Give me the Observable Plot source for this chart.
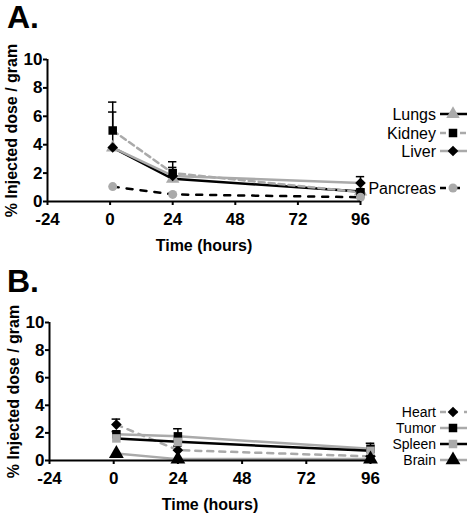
<!DOCTYPE html>
<html><head><meta charset="utf-8">
<script src="https://cdn.jsdelivr.net/npm/d3@7"></script>
<script src="https://cdn.jsdelivr.net/npm/@observablehq/plot@0.6"></script>
<style>
body{margin:0;background:#fff;}
#wrap{width:469px;}
svg{display:block;}
</style></head>
<body><div id="wrap"></div>
<script>
// ---- data ----
const times = [1, 24, 96];
const xTicks = [-24, 0, 24, 48, 72, 96];
const yTicks = [0, 2, 4, 6, 8, 10];

// Panel A
const lungs = [3.8, 1.6, 0.7];
const kidney = [5.0, 2.0, 0.65];
const liver = [3.8, 1.8, 1.3];
const pancreas = [1.05, 0.5, 0.3];
const kidneySd = [2.0, 0.8, 0.2];
const liverSd = [2.5, 0.6, 0.45];

// Panel B
const heart = [2.6, 0.75, 0.3];
const tumor = [1.9, 1.75, 0.85];
const spleen = [1.6, 1.35, 0.7];
const brain = [0.5, 0.1, 0.1];
const heartSd = [0.4, 0.3, 0];
const tumorSd = [0.2, 0.55, 0.4];

const GRAY = "#aaaaaa";
const FONT = "'Liberation Sans', Arial, Helvetica, sans-serif";

const tbl = vals => vals.map((v, i) => ({t: times[i], v}));
const errTbl = (vals, sds) => vals.map((v, i) => ({t: times[i], v, hi: v + sds[i]})).filter(d => d.hi > d.v);

function panel({series, errs, letter, margins, legendY}) {
  const marks = [];
  for (const s of series) {
    marks.push(Plot.line(tbl(s.vals), {x: "t", y: "v", stroke: s.line, strokeWidth: 2.5,
      strokeDasharray: s.dash || null}));
  }
  for (const e of errs) {
    const d = errTbl(e.vals, e.sds);
    marks.push(Plot.ruleX(d, {x: "t", y1: "v", y2: "hi", stroke: "black", strokeWidth: 1.5}));
    marks.push(Plot.ruleY(d, {y: "hi", x1: r => r.t - 1.6, x2: r => r.t + 1.6, stroke: "black", strokeWidth: 1.5}));
  }
  for (const s of series) {
    marks.push(Plot.dot(tbl(s.vals), {x: "t", y: "v", symbol: s.symbol, fill: s.fill, stroke: "none", r: s.r}));
  }
  marks.push(Plot.ruleY([0], {stroke: "black", strokeWidth: 2}));
  marks.push(Plot.ruleX([-24], {stroke: "black", strokeWidth: 2}));
  marks.push(Plot.axisY({ticks: yTicks, tickSize: 4, tickPadding: 1, strokeWidth: 2, tickFormat: d => String(d),
    label: "% Injected dose / gram", labelAnchor: "center", labelArrow: "none", labelOffset: 42}));
  marks.push(Plot.axisX({ticks: xTicks, tickSize: 4, tickPadding: 7, strokeWidth: 2, tickFormat: d => String(d),
    label: "Time (hours)", labelAnchor: "center", labelArrow: "none", labelOffset: 49}));

  const chart = Plot.plot({
    width: 469, height: 257,
    marginLeft: margins[0], marginRight: margins[1], marginTop: margins[2], marginBottom: margins[3],
    x: {domain: [-24, 96]},
    y: {domain: [0, 10]},
    style: {fontFamily: FONT, fontSize: "17px", fontWeight: "bold", color: "black", background: "white", overflow: "visible"},
    marks
  });

  const svg = d3.select(chart);
  svg.selectAll('[aria-label="x-axis label"] text, [aria-label="y-axis label"] text').style("font-size", "16px");

  svg.append("text").attr("x", 7).attr("y", letter.y).attr("text-anchor", "start").text(letter.text)
    .style("font-family", FONT).style("font-size", "32px").style("font-weight", "bold").attr("fill", "black");

  const symMap = {triangle: d3.symbolTriangle, square: d3.symbolSquare, diamond2: d3.symbolDiamond2, circle: d3.symbolCircle};
  series.forEach((s, i) => {
    const y = legendY[i];
    svg.append("text").attr("x", 436).attr("y", y).attr("dy", "0.36em").attr("text-anchor", "end")
      .text(s.name).style("font-family", FONT).style("font-size", letter.legendSize).style("font-weight", "normal").attr("fill", "black");
    svg.append("line").attr("x1", 440).attr("x2", 467).attr("y1", y).attr("y2", y)
      .attr("stroke", s.line).attr("stroke-width", 2.5).attr("stroke-dasharray", s.dash || null);
    svg.append("path").attr("transform", `translate(453,${y})`)
      .attr("d", d3.symbol(symMap[s.symbol], Math.PI * s.r * s.r)())
      .attr("fill", s.fill);
  });
  return chart;
}

const wrap = document.getElementById("wrap");
wrap.append(panel({
  series: [
    {name: "Lungs", vals: lungs, line: "black", symbol: "triangle", fill: GRAY, r: 5},
    {name: "Kidney", vals: kidney, line: GRAY, dash: "6,4", symbol: "square", fill: "black", r: 4.8},
    {name: "Liver", vals: liver, line: GRAY, symbol: "diamond2", fill: "black", r: 4.8},
    {name: "Pancreas", vals: pancreas, line: "black", dash: "6,8", symbol: "circle", fill: GRAY, r: 4.5}
  ],
  errs: [{vals: kidney, sds: kidneySd}, {vals: liver, sds: liverSd}],
  letter: {text: "A.", y: 28, legendSize: "16px"},
  margins: [47, 109, 59, 56],
  legendY: [114, 133, 151, 188]
}));
wrap.append(panel({
  series: [
    {name: "Heart", vals: heart, line: GRAY, dash: "6,6", symbol: "diamond2", fill: "black", r: 4.8},
    {name: "Tumor", vals: tumor, line: GRAY, symbol: "square", fill: "black", r: 4.8},
    {name: "Spleen", vals: spleen, line: "black", symbol: "square", fill: GRAY, r: 4.8},
    {name: "Brain", vals: brain, line: GRAY, symbol: "triangle", fill: "black", r: 5.5}
  ],
  errs: [{vals: heart, sds: heartSd}, {vals: tumor, sds: tumorSd}],
  letter: {text: "B.", y: 35, legendSize: "14px"},
  margins: [49, 99, 65, 54],
  legendY: [155, 171, 187, 203]
}));
</script>
</body></html>
